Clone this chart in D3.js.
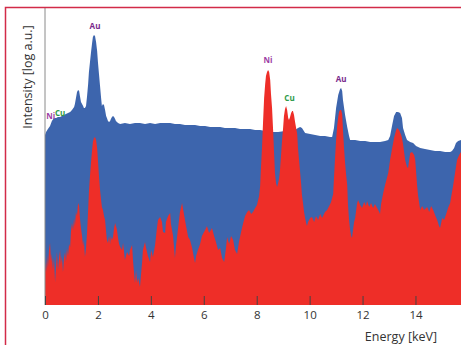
<!DOCTYPE html>
<html>
<head>
<meta charset="utf-8">
<script src="https://cdn.jsdelivr.net/npm/d3@7"></script>
<style>
  body { margin: 0; background: #fff; }
  svg { display: block; font-family: "Open Sans", "Noto Sans", sans-serif; }
</style>
</head>
<body>
<svg id="chart" width="461" height="345"></svg>
<script>
// blue spectrum: [energy keV, log intensity]
const blueSpectrum = [
  [0,1.70],[.04,1.73],[.11,1.76],[.19,1.79],[.26,1.84],[.34,1.87],[.42,1.87],[.49,1.88],[.57,1.88],[.64,1.89],
  [.72,1.90],[.79,1.91],[.87,1.92],[.95,1.93],[1.02,1.95],[1.10,1.98],[1.13,2.01],[1.17,2.07],[1.21,2.13],[1.25,2.15],
  [1.29,2.14],[1.32,2.09],[1.36,2.03],[1.40,2.01],[1.44,1.99],[1.47,1.97],[1.51,1.97],[1.55,1.99],[1.59,2.09],[1.63,2.21],
  [1.66,2.33],[1.70,2.43],[1.74,2.53],[1.78,2.62],[1.81,2.68],[1.85,2.70],[1.89,2.69],[1.93,2.63],[1.97,2.54],[2.00,2.43],
  [2.04,2.31],[2.08,2.19],[2.12,2.07],[2.15,1.99],[2.19,2.01],[2.23,2.00],[2.27,1.95],[2.31,1.89],[2.34,1.87],[2.38,1.84],
  [2.42,1.83],[2.46,1.84],[2.49,1.86],[2.53,1.88],[2.57,1.89],[2.61,1.88],[2.65,1.86],[2.68,1.84],[2.76,1.82],[2.84,1.81],
  [3.02,1.82],[3.21,1.81],[3.40,1.82],[3.59,1.82],[3.78,1.81],[3.97,1.82],[4.16,1.81],[4.35,1.82],[4.54,1.82],[4.73,1.82],
  [4.91,1.81],[5.10,1.81],[5.29,1.80],[5.48,1.80],[5.67,1.80],[5.86,1.79],[6.05,1.79],[6.24,1.78],[6.43,1.78],[6.62,1.78],
  [6.80,1.77],[6.99,1.77],[7.18,1.77],[7.37,1.76],[7.56,1.76],[7.75,1.76],[7.94,1.75],[8.13,1.75],[8.32,1.74],[8.58,1.73],
  [8.81,1.73],[9.07,1.74],[9.26,1.75],[9.45,1.75],[9.56,1.77],[9.64,1.78],[9.71,1.77],[9.83,1.72],[10.02,1.71],[10.21,1.70],
  [10.40,1.69],[10.58,1.69],[10.77,1.68],[10.85,1.68],[10.92,1.77],[11.00,1.97],[11.08,2.10],[11.15,2.16],[11.19,2.17],[11.23,2.14],
  [11.26,2.05],[11.34,1.90],[11.42,1.78],[11.49,1.69],[11.53,1.65],[11.72,1.65],[11.91,1.64],[12.10,1.64],[12.29,1.63],[12.47,1.63],
  [12.66,1.63],[12.85,1.64],[12.97,1.65],[13.04,1.69],[13.12,1.80],[13.19,1.89],[13.27,1.93],[13.34,1.93],[13.42,1.92],[13.49,1.87],
  [13.53,1.77],[13.61,1.70],[13.68,1.65],[13.80,1.63],[13.91,1.62],[14.02,1.59],[14.18,1.57],[14.36,1.56],[14.55,1.55],[14.74,1.54],
  [14.93,1.54],[15.12,1.53],[15.31,1.53],[15.38,1.54],[15.46,1.57],[15.53,1.62],[15.61,1.64],[15.72,1.65]
];

// red spectrum: [energy keV, log intensity]
const redSpectrum = [
  [0,.43],[.04,.33],[.08,.50],[.11,.37],[.15,.55],[.19,.62],[.23,.43],[.26,.51],[.30,.35],[.34,.47],
  [.38,.23],[.42,.39],[.45,.53],[.49,.35],[.53,.47],[.57,.55],[.60,.41],[.64,.49],[.68,.33],[.72,.47],
  [.76,.53],[.79,.43],[.83,.57],[.87,.49],[.91,.61],[.95,.58],[.98,.73],[1.02,.82],[1.06,.75],[1.10,.87],
  [1.13,.79],[1.17,.93],[1.21,.89],[1.25,1.02],[1.29,.99],[1.32,.87],[1.36,.77],[1.40,.69],[1.44,.59],[1.47,.65],
  [1.51,.48],[1.55,.57],[1.59,.73],[1.63,.95],[1.66,1.13],[1.70,1.29],[1.74,1.43],[1.78,1.55],[1.81,1.63],[1.85,1.67],
  [1.89,1.68],[1.93,1.65],[1.97,1.57],[2.00,1.45],[2.04,1.29],[2.08,1.15],[2.12,1.05],[2.15,.98],[2.19,.95],[2.23,.89],
  [2.27,.85],[2.31,.73],[2.34,.65],[2.38,.62],[2.42,.69],[2.46,.61],[2.49,.69],[2.53,.65],[2.57,.68],[2.61,.77],
  [2.65,.82],[2.68,.79],[2.72,.75],[2.76,.67],[2.80,.61],[2.84,.58],[2.91,.55],[2.95,.62],[3.02,.45],[3.10,.53],
  [3.18,.49],[3.21,.55],[3.29,.60],[3.33,.43],[3.40,.22],[3.44,.35],[3.48,.22],[3.52,.27],[3.59,.18],[3.63,.31],
  [3.67,.43],[3.70,.55],[3.78,.63],[3.82,.57],[3.89,.49],[3.97,.43],[4.01,.55],[4.08,.48],[4.16,.60],[4.23,.77],
  [4.27,.85],[4.35,.88],[4.42,.83],[4.46,.73],[4.54,.72],[4.57,.83],[4.65,.89],[4.73,.92],[4.76,.81],[4.84,.69],
  [4.91,.47],[4.95,.59],[5.03,.77],[5.10,.93],[5.18,1.02],[5.25,.91],[5.33,.79],[5.41,.68],[5.48,.65],[5.56,.57],
  [5.63,.47],[5.67,.42],[5.71,.49],[5.78,.55],[5.86,.61],[5.93,.69],[6.05,.75],[6.12,.79],[6.20,.72],[6.31,.77],
  [6.39,.69],[6.46,.63],[6.54,.55],[6.62,.57],[6.69,.47],[6.77,.43],[6.84,.57],[6.88,.68],[6.96,.61],[7.03,.69],
  [7.11,.65],[7.18,.55],[7.26,.51],[7.33,.63],[7.41,.73],[7.48,.81],[7.56,.89],[7.64,.93],[7.71,.95],[7.79,.91],
  [7.86,.93],[7.94,.97],[8.01,1.00],[8.09,1.09],[8.13,1.19],[8.16,1.37],[8.20,1.57],[8.24,1.83],[8.28,2.07],[8.32,2.21],
  [8.35,2.29],[8.39,2.33],[8.43,2.35],[8.47,2.33],[8.51,2.25],[8.54,2.11],[8.58,1.97],[8.62,1.75],[8.66,1.50],[8.69,1.32],
  [8.73,1.22],[8.77,1.18],[8.81,1.22],[8.85,1.27],[8.88,1.35],[8.92,1.50],[8.96,1.65],[9.00,1.78],[9.03,1.89],[9.07,1.96],
  [9.11,1.99],[9.15,1.95],[9.19,1.87],[9.22,1.85],[9.26,1.88],[9.30,1.92],[9.34,1.94],[9.37,1.94],[9.41,1.90],[9.45,1.83],
  [9.49,1.77],[9.53,1.71],[9.56,1.57],[9.60,1.45],[9.64,1.33],[9.68,1.21],[9.71,1.10],[9.75,1.02],[9.79,.93],[9.83,.87],
  [9.87,.82],[9.90,.79],[9.94,.83],[10.02,.87],[10.09,.88],[10.17,.83],[10.24,.89],[10.32,.85],[10.40,.91],[10.47,.87],
  [10.58,.93],[10.66,.95],[10.74,.99],[10.81,1.03],[10.89,1.11],[10.92,1.27],[10.96,1.47],[11.00,1.65],[11.04,1.79],[11.08,1.88],
  [11.11,1.93],[11.15,1.95],[11.19,1.95],[11.23,1.91],[11.26,1.75],[11.30,1.57],[11.34,1.42],[11.38,1.30],[11.42,1.20],[11.45,1.00],
  [11.49,.85],[11.53,.75],[11.57,.69],[11.60,.67],[11.64,.75],[11.68,.83],[11.72,.87],[11.76,.95],[11.79,1.01],[11.83,1.05],
  [11.91,1.00],[11.98,.97],[12.06,1.03],[12.13,.99],[12.17,1.04],[12.25,.98],[12.32,1.02],[12.40,.97],[12.47,1.01],[12.55,.97],
  [12.63,.93],[12.66,.91],[12.70,1.01],[12.78,1.12],[12.85,1.20],[12.97,1.32],[13.04,1.45],[13.12,1.57],[13.19,1.67],[13.27,1.75],
  [13.31,1.77],[13.38,1.75],[13.46,1.70],[13.49,1.67],[13.53,1.61],[13.61,1.45],[13.68,1.38],[13.72,1.37],[13.80,1.52],[13.87,1.53],
  [13.95,1.50],[13.99,1.45],[14.06,1.20],[14.10,1.09],[14.18,.95],[14.25,.99],[14.33,.95],[14.44,.98],[14.52,.93],[14.59,.99],
  [14.67,.95],[14.74,.90],[14.82,.85],[14.89,.79],[14.93,.77],[15.01,.87],[15.08,.85],[15.16,.91],[15.23,.97],[15.31,1.02],
  [15.38,1.13],[15.42,1.19],[15.50,1.33],[15.57,1.45],[15.65,1.50],[15.72,1.53]
];

// element labels: [symbol, energy keV, label anchor intensity]
const elementLabels = [
  ["Au", 1.89, 2.76],
  ["Ni", 8.43, 2.42],
  ["Cu", 9.24, 2.04],
  ["Au", 11.19, 2.23],
  ["Ni", 0.22, 1.86],
  ["Cu", 0.57, 1.89]
];
const elementColors = { Au: "#7a2a8c", Ni: "#9c3ea4", Cu: "#2f9a48" };

const energyTicks = [0, 2, 4, 6, 8, 10, 12, 14];

const svg = d3.select("#chart");

const x = d3.scaleLinear().domain([0, 15.72]).range([45, 461]);
const y = d3.scaleLinear().domain([0, 3]).range([305, 5]);

const area = d3.area()
  .x(d => x(d[0]))
  .y0(y(0))
  .y1(d => y(d[1]));

svg.append("path")
  .datum(blueSpectrum)
  .attr("fill", "#3d65ad")
  .attr("d", area);

svg.append("path")
  .datum(redSpectrum)
  .attr("fill", "#ee2e28")
  .attr("d", area);

// element labels
svg.selectAll(".el-label")
  .data(elementLabels)
  .enter()
  .append("text")
    .attr("class", "el-label")
    .attr("x", d => x(d[1]))
    .attr("y", d => y(d[2]))
    .attr("text-anchor", "middle")
    .attr("font-size", 8)
    .attr("font-weight", "bold")
    .attr("fill", d => elementColors[d[0]])
    .text(d => d[0]);

// y axis line
svg.append("line")
  .attr("x1", x(0)).attr("x2", x(0))
  .attr("y1", 8).attr("y2", y(0))
  .attr("stroke", "#8a8a8a")
  .attr("stroke-width", 1);

// x axis with inward ticks
const xAxis = d3.axisBottom(x)
  .tickValues(energyTicks)
  .tickSize(-9)
  .tickPadding(5)
  .tickFormat(d3.format("d"));

const gx = svg.append("g")
  .attr("transform", `translate(0,${y(0)})`)
  .call(xAxis);
gx.select(".domain").remove();
gx.selectAll(".tick line").attr("stroke", "#444");
gx.selectAll(".tick text")
  .attr("fill", "#333")
  .attr("font-size", 11.5)
  .attr("font-family", "'Open Sans', sans-serif")
  .attr("y", 6);

svg.append("text")
  .attr("x", 401)
  .attr("y", 341)
  .attr("text-anchor", "middle")
  .attr("font-size", 12.5)
  .attr("fill", "#333")
  .text("Energy [keV]");

svg.append("text")
  .attr("transform", "translate(32,77) rotate(-90)")
  .attr("text-anchor", "middle")
  .attr("font-size", 12.5)
  .attr("fill", "#333")
  .text("Intensity [log a.u.]");

// frame
svg.append("path")
  .attr("d", "M5.5,345 V7.5 H461")
  .attr("fill", "none")
  .attr("stroke", "#d22b48")
  .attr("stroke-width", 1.5);
</script>
</body>
</html>
